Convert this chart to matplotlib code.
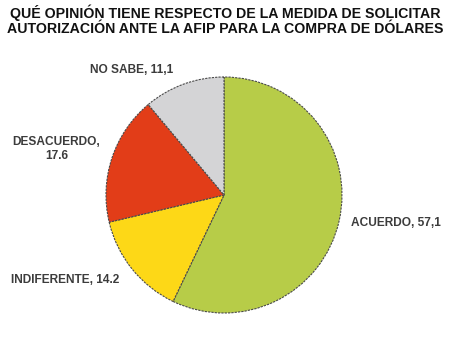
import matplotlib
matplotlib.use('Agg')
from matplotlib import pyplot as plt

labels = ['ACUERDO, 57,1', 'INDIFERENTE, 14.2', 'DESACUERDO,\n17.6', 'NO SABE, 11,1']
values = [57.1, 14.2, 17.6, 11.1]
colors = ['#b7cc48', '#fdd817', '#e23d18', '#d4d4d6']
label_pos = [(1.46, -0.24), (-1.35, -0.72), (-1.42, 0.39), (-0.78, 1.06)]

plt.rcParams['font.family'] = ['Liberation Sans', 'DejaVu Sans']

fig = plt.figure(figsize=(4.5, 3.4), dpi=100)
ax = fig.add_axes([106 / 450, 27 / 340, 236 / 450, 236 / 340])

ax.pie(values, colors=colors, startangle=90, counterclock=False,
       wedgeprops={'edgecolor': '#4a4a4a', 'linewidth': 0.8, 'linestyle': (0, (2, 1))})
ax.set_xlim(-1, 1)
ax.set_ylim(-1, 1)
ax.set_aspect('equal')

for lab, (x, y) in zip(labels, label_pos):
    ax.text(x, y, lab, ha='center', va='center', fontsize=8.6, fontweight='bold',
            color='#3c3c3c', clip_on=False, linespacing=1.25)

fig.text(0.5, 0.962, 'QUÉ OPINIÓN TIENE RESPECTO DE LA MEDIDA DE SOLICITAR',
         ha='center', va='center', fontsize=10.2, fontweight='bold', color='#111111')
fig.text(0.5, 0.915, 'AUTORIZACIÓN ANTE LA AFIP PARA LA COMPRA DE DÓLARES',
         ha='center', va='center', fontsize=10.2, fontweight='bold', color='#111111')

fig.savefig('out.png', dpi=100)
